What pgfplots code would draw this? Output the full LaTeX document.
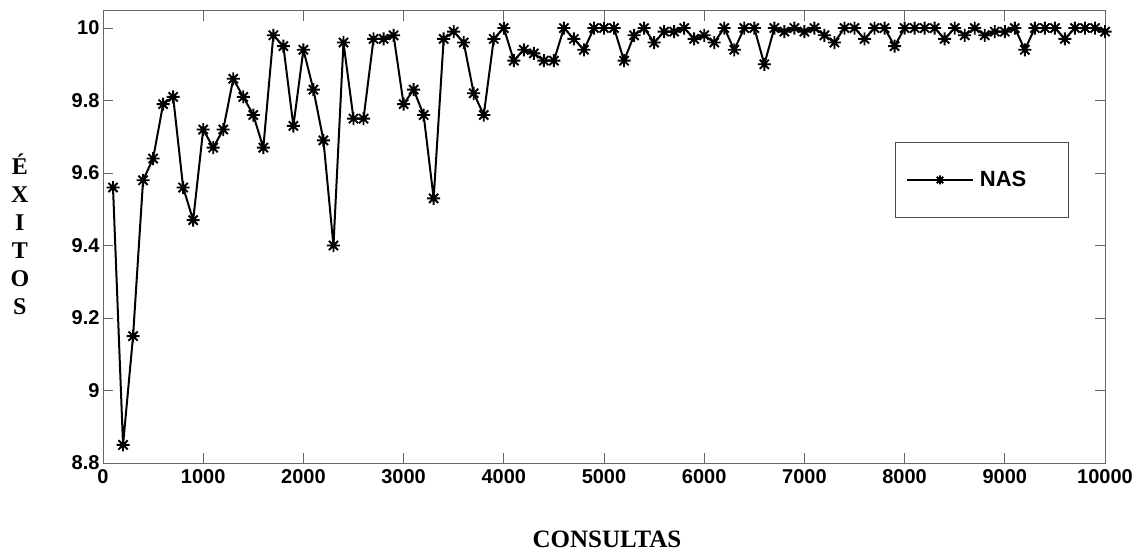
\documentclass[border=0pt]{standalone}
\usepackage{pgfplots}
\usepackage{pgfplotstable}
\pgfplotsset{compat=1.18}
\usepackage{fontspec}
\setmainfont{Liberation Serif}
\newfontfamily\arial{Liberation Sans}

\pgfdeclareplotmark{mstar}{%
  \pgfpathmoveto{\pgfqpoint{-\pgfplotmarksize}{0pt}}%
  \pgfpathlineto{\pgfqpoint{\pgfplotmarksize}{0pt}}%
  \pgfpathmoveto{\pgfqpoint{0pt}{-\pgfplotmarksize}}%
  \pgfpathlineto{\pgfqpoint{0pt}{\pgfplotmarksize}}%
  \pgfpathmoveto{\pgfqpoint{-0.707\pgfplotmarksize}{-0.707\pgfplotmarksize}}%
  \pgfpathlineto{\pgfqpoint{0.707\pgfplotmarksize}{0.707\pgfplotmarksize}}%
  \pgfpathmoveto{\pgfqpoint{-0.707\pgfplotmarksize}{0.707\pgfplotmarksize}}%
  \pgfpathlineto{\pgfqpoint{0.707\pgfplotmarksize}{-0.707\pgfplotmarksize}}%
  \pgfusepathqstroke}

\pgfplotstableread{
x y
100 9.56
200 8.85
300 9.15
400 9.58
500 9.64
600 9.79
700 9.81
800 9.56
900 9.47
1000 9.72
1100 9.67
1200 9.72
1300 9.86
1400 9.81
1500 9.76
1600 9.67
1700 9.98
1800 9.95
1900 9.73
2000 9.94
2100 9.83
2200 9.69
2300 9.40
2400 9.96
2500 9.75
2600 9.75
2700 9.97
2800 9.97
2900 9.98
3000 9.79
3100 9.83
3200 9.76
3300 9.53
3400 9.97
3500 9.99
3600 9.96
3700 9.82
3800 9.76
3900 9.97
4000 10.00
4100 9.91
4200 9.94
4300 9.93
4400 9.91
4500 9.91
4600 10.00
4700 9.97
4800 9.94
4900 10.00
5000 10.00
5100 10.00
5200 9.91
5300 9.98
5400 10.00
5500 9.96
5600 9.99
5700 9.99
5800 10.00
5900 9.97
6000 9.98
6100 9.96
6200 10.00
6300 9.94
6400 10.00
6500 10.00
6600 9.90
6700 10.00
6800 9.99
6900 10.00
7000 9.99
7100 10.00
7200 9.98
7300 9.96
7400 10.00
7500 10.00
7600 9.97
7700 10.00
7800 10.00
7900 9.95
8000 10.00
8100 10.00
8200 10.00
8300 10.00
8400 9.97
8500 10.00
8600 9.98
8700 10.00
8800 9.98
8900 9.99
9000 9.99
9100 10.00
9200 9.94
9300 10.00
9400 10.00
9500 10.00
9600 9.97
9700 10.00
9800 10.00
9900 10.00
10000 9.99
}\datatable

\begin{document}
\begin{tikzpicture}
\useasboundingbox (0,0) rectangle (1141bp,558bp);
\begin{axis}[
  at={(103bp,95bp)}, anchor=south west,
  scale only axis, width=1002bp, height=452bp,
  xmin=0, xmax=10000, ymin=8.8, ymax=10.047,
  xtick={0,1000,2000,3000,4000,5000,6000,7000,8000,9000,10000},
  ytick={8.8,9,9.2,9.4,9.6,9.8,10},
  scaled x ticks=false, scaled y ticks=false,
  /pgf/number format/1000 sep={},
  /pgf/number format/assume math mode=true,
  tick label style={font=\arial\bfseries\fontsize{20bp}{24bp}\selectfont},
  xticklabel style={yshift=-3bp},
  tick align=inside,
  major tick length=10bp,
  axis line style={draw=black!60, line width=1bp},
  tick style={draw=black!60, line width=1bp},
  xlabel={CONSULTAS},
  xlabel style={at={(axis description cs:0.503,-0.170)}, anchor=center,
    font=\bfseries\fontsize{25bp}{30bp}\selectfont},
  ylabel={É\\X\\I\\T\\O\\S},
  ylabel style={rotate=-90, align=center, at={(axis description cs:-0.083,0.507)}, anchor=center,
    font=\bfseries\fontsize{24bp}{28bp}\selectfont},
  legend style={at={(0.790,0.710)}, anchor=north west, draw=black!70, line width=1bp,
    font=\arial\bfseries\fontsize{22bp}{26bp}\selectfont,
    inner xsep=11bp, inner ysep=27bp},
  legend image code/.code={\draw[mark repeat=2,mark phase=2,mark size=4.5bp,line width=1.8bp]
     plot coordinates {(0bp,0bp)(33bp,0bp)(66bp,0bp)};},
]
\addplot[black, line width=2bp, mark=mstar, mark size=6.5bp, mark options={line width=1.9bp}]
  table[x=x,y=y] {\datatable};
\addlegendentry{\hspace*{4bp}NAS\hspace*{29bp}}
\end{axis}
\end{tikzpicture}
\end{document}
